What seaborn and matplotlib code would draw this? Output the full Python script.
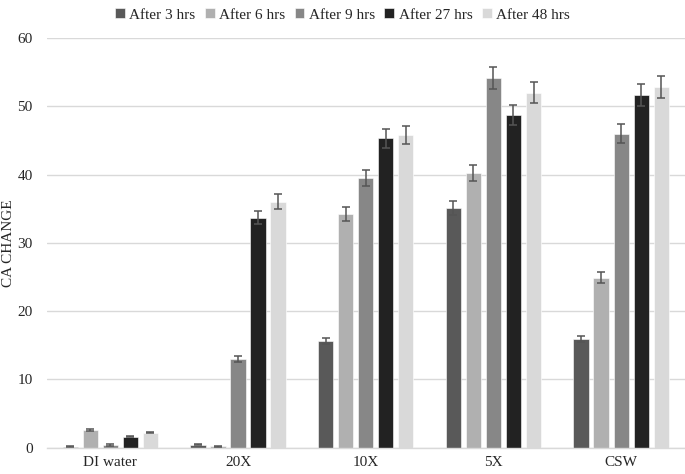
import numpy as np
import pandas as pd
import matplotlib.pyplot as plt
import seaborn as sns

categories = ["DI water", "20X", "10X", "5X", "CSW"]
series = ["After 3 hrs", "After 6 hrs", "After 9 hrs", "After 27 hrs", "After 48 hrs"]

after_3 = [0.15, 0.45, 15.6, 35.1, 15.9]
after_6 = [2.6, 0.18, 34.2, 40.2, 24.9]
after_9 = [0.4, 13.0, 39.5, 54.1, 46.0]
after_27 = [1.6, 33.7, 45.3, 48.7, 51.6]
after_48 = [2.2, 36.0, 45.8, 52.0, 52.8]

err_3 = [0.05, 0.1, 0.45, 1.0, 0.48]
err_6 = [0.15, 0.05, 1.0, 1.2, 0.8]
err_9 = [0.08, 0.42, 1.17, 1.65, 1.4]
err_27 = [0.1, 1.0, 1.35, 1.5, 1.6]
err_48 = [0.12, 1.1, 1.37, 1.56, 1.6]

values = [after_3, after_6, after_9, after_27, after_48]
errors = [err_3, err_6, err_9, err_27, err_48]
colors = ["#595959", "#b0b0b0", "#878787", "#222222", "#d9d9d9"]

df = pd.DataFrame({
    "cat": np.tile(categories, len(series)),
    "series": np.repeat(series, len(categories)),
    "value": np.concatenate(values),
})

sns.set_theme(style="whitegrid")
plt.rcParams['font.family'] = ['Liberation Serif', 'DejaVu Serif']

fig = plt.figure(figsize=(6.85, 4.74), dpi=100)
ax = fig.add_axes([0.068, 0.0555, 0.932, 0.8645])

sns.barplot(data=df, x="cat", y="value", hue="series", order=categories,
            hue_order=series, palette=colors, width=0.784, gap=0.235,
            errorbar=None, saturation=1, edgecolor="white", linewidth=0.4, ax=ax)

# error bars on top of each bar
for cont, errs in zip(ax.containers, errors):
    xs = [b.get_x() + b.get_width() / 2 for b in cont]
    hs = [b.get_height() for b in cont]
    ax.errorbar(xs, hs, yerr=errs, fmt="none", ecolor="#555555",
                elinewidth=1.1, capsize=3.2, capthick=1.1, zorder=5)

ax.set_ylim(0, 60)
ax.set_xlim(-0.5, 4.5)
ax.set_yticks(range(0, 61, 10))
ax.set_xlabel("")
ax.set_ylabel("CA CHANGE", fontsize=11, labelpad=2)
ax.tick_params(axis="y", labelsize=11, pad=10, length=0)
ax.tick_params(axis="x", labelsize=11, pad=6, length=0)
ax.grid(axis="y", color="#d9d9d9", linewidth=1)
ax.grid(axis="x", visible=False)
for side in ["left", "right", "top"]:
    ax.spines[side].set_visible(False)
ax.spines["bottom"].set_color("#d9d9d9")
ax.spines["bottom"].set_linewidth(1)
ax.set_axisbelow(True)

handles, labels = ax.get_legend_handles_labels()
ax.legend_.remove()
fig.legend(handles, labels, loc="upper center", bbox_to_anchor=(0.5, 1.012),
           ncol=5, frameon=False, fontsize=11, handlelength=0.65,
           handleheight=0.65, handletextpad=0.3, columnspacing=0.6)

plt.savefig("out.png", dpi=100)
plt.close()
